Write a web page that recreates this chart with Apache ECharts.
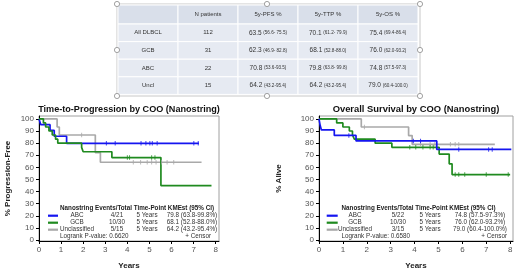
<!DOCTYPE html>
<html><head><meta charset="utf-8">
<script src="https://cdn.jsdelivr.net/npm/echarts@6/dist/echarts.min.js"></script>
<style>html,body{margin:0;padding:0;background:#fff}#c{width:520px;height:271px}</style>
</head><body><div id="c"></div>
<script>
// ---------- table data ----------
const tableHeader = ['', 'N patients', '5y-PFS %', '5y-TTP %', '5y-OS %'];
const tableRows = ['All DLBCL', 'GCB', 'ABC', 'Uncl'];
const nPatients = ['112', '31', '22', '15'];
const pfsEst = ['63.5', '62.3', '70.8', '64.2'];
const pfsCI = ['(56.6- 75.5)', '(46.9- 82.8)', '(53.6-93.5)', '(43.2-95.4)'];
const ttpEst = ['70.1', '68.1', '79.8', '64.2'];
const ttpCI = ['(61.2- 79.9)', '(52.8-88.0)', '(63.8- 99.8)', '(43.2-95.4)'];
const osEst = ['75.4', '76.0', '74.8', '79.0'];
const osCI = ['(69.4-86.4)', '(62.0-93.2)', '(57.5-97.3)', '(60.4-100.0)'];

// ---------- axis ticks ----------
const xTicks = [0, 1, 2, 3, 4, 5, 6, 7, 8];
const yTicks = [0, 10, 20, 30, 40, 50, 60, 70, 80, 90, 100];

// ---------- KM curves: [years, % surviving] ----------
const ttpABC = [[0,100],[0.08,95.2],[0.5,90.5],[0.69,85.7],[1.25,79.8]];
const ttpABCend = 7.24;
const ttpABCcens = [3.05, 3.45, 4.62, 4.84, 5.02, 5.13, 5.35, 7.01, 7.21];
const ttpGCB = [[0,100],[0.2,96.7],[0.3,93.3],[0.45,90],[0.6,86.7],[0.75,83.3],[0.85,80],[1.93,76.5],[2.0,72.9],[3.3,68.1],[5.52,45]];
const ttpGCBend = 7.81;
const ttpGCBcens = [4.0, 4.1, 5.1, 5.25];
const ttpUNC = [[0,100],[0.82,93.3],[0.92,86.7],[2.55,72.2],[2.78,64.2]];
const ttpUNCend = 7.36;
const ttpUNCcens = [1.93, 4.27, 4.6, 4.9, 5.1, 5.3, 5.55, 5.8, 6.1];

const osABC = [[0,100],[0.04,95.5],[0.1,90.9],[0.64,86.4],[1.55,81.8],[4.93,74.8]];
const osABCend = 8.05;
const osABCcens = [1.25, 3.95, 4.25, 5.85, 7.1, 7.25];
const osGCB = [[0,100],[0.74,96.7],[1.0,93.3],[1.27,90],[1.4,86.7],[1.48,83.3],[2.35,80],[3.05,76.5],[5.03,71],[5.45,62.9],[5.57,54]];
const osGCBend = 8.0;
const osGCBcens = [3.8, 4.05, 4.35, 4.65, 4.78, 5.7, 5.85, 6.1, 7.0, 7.92];
const osUNC = [[0,100],[1.77,93.3],[3.75,86.2],[3.9,79]];
const osUNCend = 7.36;
const osUNCcens = [1.9, 4.25, 4.65, 4.85, 5.5, 5.7, 5.85];

// ---------- legend tables ----------
const legendHeader = ['Nanostring', 'Events/Total', 'Time-Point', 'KMEst (95% CI)'];
const legendGroups = ['ABC', 'GCB', 'Unclassified'];
const ttpEvents = ['4/21', '10/30', '5/15'];
const ttpTime = ['5 Years', '5 Years', '5 Years'];
const ttpKM = ['79.8 (63.8-99.8%)', '68.1 (52.8-88.0%)', '64.2 (43.2-95.4%)'];
const ttpLogrank = 'Logrank P-value: 0.6620';
const osEvents = ['5/22', '10/30', '3/15'];
const osTime = ['5 Years', '5 Years', '5 Years'];
const osKM = ['74.8 (57.5-97.3%)', '76.0 (62.0-93.2%)', '79.0 (60.4-100.0%)'];
const osLogrank = 'Logrank P-value: 0.6580';
const censorLabel = '+ Censor';

// ---------- styles ----------
const FONT = 'Liberation Sans, Arial, sans-serif';
const C_ABC = '#1515f0', C_GCB = '#1f8a1f', C_UNC = '#a9a9a9';
const groupColors = [C_ABC, C_GCB, C_UNC];

function sAt(curve, t) { let s = curve[0][1]; for (const p of curve) if (p[0] <= t) s = p[1]; return s; }
function km(curve, tEnd, cens, color, xi) {
  return [
    { type: 'line', step: 'end', xAxisIndex: xi, yAxisIndex: xi, symbol: 'none', silent: true,
      data: curve.concat([[tEnd, curve[curve.length - 1][1]]]),
      lineStyle: { color: color, width: 1.7 }, itemStyle: { color: color }, z: 3 },
    { type: 'scatter', xAxisIndex: xi, yAxisIndex: xi, symbol: 'rect', symbolSize: [1, 4.5], silent: true,
      data: cens.map(t => [t, sAt(curve, t)]), itemStyle: { color: color }, z: 4 }
  ];
}

const grids = [
  { left: 39, top: 116, width: 180, height: 127, xmax: 8.15, yName: '% Progression-Free', yGap: 27 },
  { left: 319, top: 116, width: 194, height: 127, xmax: 8.12, yName: '% Alive', yGap: 36 }
];

const axisText = { fontSize: 8, color: '#555', fontFamily: FONT };
const nameText = { fontSize: 8, fontWeight: 'bold', color: '#222', fontFamily: FONT };

const option = {
  animation: false,
  title: [
    { text: 'Time-to-Progression by COO (Nanostring)', left: 129, top: 104.5, textAlign: 'center', padding: 0,
      textStyle: { fontSize: 9.1, fontWeight: 'bold', color: '#111', fontFamily: FONT } },
    { text: 'Overall Survival by COO (Nanostring)', left: 416, top: 104.5, textAlign: 'center', padding: 0,
      textStyle: { fontSize: 9.4, fontWeight: 'bold', color: '#111', fontFamily: FONT } }
  ],
  grid: grids.map(g => ({ left: g.left, top: g.top, width: g.width, height: g.height, show: true,
    borderColor: '#a0a0a0', borderWidth: 1, containLabel: false })),
  xAxis: grids.map((g, i) => ({
    gridIndex: i, type: 'value', min: 0, max: g.xmax,
    axisLine: { onZero: false, lineStyle: { color: '#000', width: 1 } },
    axisTick: { customValues: xTicks, length: 3, lineStyle: { color: '#000' } },
    axisLabel: { customValues: xTicks, margin: 5, ...axisText },
    splitLine: { show: false },
    name: 'Years', nameLocation: 'middle', nameGap: 21, nameTextStyle: nameText
  })),
  yAxis: grids.map((g, i) => ({
    gridIndex: i, type: 'value', min: -0.8, max: 102.4,
    axisLine: { onZero: false, lineStyle: { color: '#000', width: 1 } },
    axisTick: { customValues: yTicks, length: 3, lineStyle: { color: '#000' } },
    axisLabel: { customValues: yTicks, margin: 5, ...axisText },
    splitLine: { show: false },
    name: g.yName, nameLocation: 'middle', nameGap: g.yGap, nameRotate: 90, nameTextStyle: nameText
  })),
  series: [].concat(
    km(ttpUNC, ttpUNCend, ttpUNCcens, C_UNC, 0),
    km(ttpABC, ttpABCend, ttpABCcens, C_ABC, 0),
    km(ttpGCB, ttpGCBend, ttpGCBcens, C_GCB, 0),
    km(osUNC, osUNCend, osUNCcens, C_UNC, 1),
    km(osGCB, osGCBend, osGCBcens, C_GCB, 1),
    km(osABC, osABCend, osABCcens, C_ABC, 1)
  ),
  graphic: []
};

// ---------- table graphic ----------
const T = { x: 118, y: 5, colW: 60, headH: 19, rowH: 17.6 };
const tbl = [];
tbl.push({ type: 'rect', shape: { x: 117, y: 4, width: 303, height: 92 }, style: { fill: 'none', stroke: '#c8c8c8', lineWidth: 1 }, silent: true });
for (let r = 0; r <= tableRows.length; r++) {
  const y = r === 0 ? T.y : T.y + T.headH + (r - 1) * T.rowH;
  const h = r === 0 ? T.headH : T.rowH;
  for (let c = 0; c < 5; c++) {
    tbl.push({ type: 'rect', shape: { x: T.x + c * T.colW, y: y, width: T.colW, height: h },
      style: { fill: r === 0 ? '#d9dfea' : '#e6eaf2', stroke: '#ffffff', lineWidth: 1 }, silent: true });
    let text = '', rich = null;
    if (r === 0) text = tableHeader[c];
    else {
      const i = r - 1;
      if (c === 0) text = tableRows[i];
      else if (c === 1) text = nPatients[i];
      else {
        const est = [pfsEst, ttpEst, osEst][c - 2][i], ci = [pfsCI, ttpCI, osCI][c - 2][i];
        text = '{a|' + est + '} {b|' + ci + '}';
        rich = { a: { fontSize: 6.5, fill: '#333', fontFamily: FONT }, b: { fontSize: 4.6, fill: '#333', fontFamily: FONT } };
      }
    }
    if (text) tbl.push({ type: 'text', x: T.x + c * T.colW + T.colW / 2, y: y + h / 2,
      style: { text: text, rich: rich || undefined, fontSize: 6, fill: '#333', fontFamily: FONT, align: 'center', verticalAlign: 'middle' }, silent: true });
  }
}
[[117,4],[267,4],[420,4],[117,50],[420,50],[117,96],[267,96],[420,96]].forEach(p => {
  tbl.push({ type: 'circle', shape: { cx: p[0], cy: p[1], r: 2.6 }, style: { fill: '#fff', stroke: '#8a8a8a', lineWidth: 0.8 }, silent: true });
});

// ---------- legend tables inside plots ----------
function legend(L, events, times, kms, logrank) {
  const out = [];
  const hs = { fontSize: 6.3, fontWeight: 'bold', fill: '#222', fontFamily: FONT, verticalAlign: 'middle' };
  const rs = { fontSize: 6.3, fill: '#333', fontFamily: FONT, verticalAlign: 'middle' };
  out.push({ type: 'text', x: L.hx, y: L.y0, style: { ...hs, text: legendHeader.join(' '), align: 'left' }, silent: true });
  for (let i = 0; i < 3; i++) {
    const y = L.y0 + (i + 1) * L.dy;
    out.push({ type: 'line', shape: { x1: L.l1, y1: y, x2: L.l2, y2: y }, style: { stroke: groupColors[i], lineWidth: 2.2 }, silent: true });
    out.push({ type: 'text', x: L.c1, y: y, style: { ...rs, text: legendGroups[i], align: 'center' }, silent: true });
    out.push({ type: 'text', x: L.c2, y: y, style: { ...rs, text: events[i], align: 'center' }, silent: true });
    out.push({ type: 'text', x: L.c3, y: y, style: { ...rs, text: times[i], align: 'center' }, silent: true });
    out.push({ type: 'text', x: L.c4, y: y, style: { ...rs, text: kms[i], align: 'center' }, silent: true });
  }
  const yl = L.y0 + 4 * L.dy;
  out.push({ type: 'text', x: L.hx, y: yl, style: { ...rs, text: logrank, align: 'left' }, silent: true });
  out.push({ type: 'text', x: L.cr, y: yl, style: { ...rs, text: censorLabel, align: 'right' }, silent: true });
  return out;
}
const legL = legend({ hx: 60, y0: 208.7, dy: 7, l1: 48, l2: 58, c1: 77, c2: 117, c3: 147, c4: 192, cr: 211 }, ttpEvents, ttpTime, ttpKM, ttpLogrank);
const legR = legend({ hx: 341.5, y0: 208.7, dy: 7, l1: 326.7, l2: 337.7, c1: 355, c2: 398, c3: 430, c4: 480, cr: 507 }, osEvents, osTime, osKM, osLogrank);

option.graphic = tbl.concat(legL, legR);

const chart = echarts.init(document.getElementById('c'), null, { renderer: 'canvas' });
chart.setOption(option);
</script>
</body></html>
